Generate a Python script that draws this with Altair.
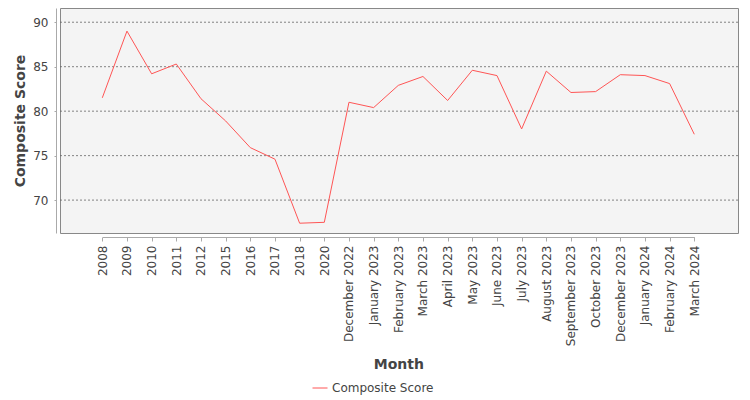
"Composite score by month, line chart"

import pandas as pd
import altair as alt

months = [
    "2008", "2009", "2010", "2011", "2012", "2015", "2016", "2017", "2018", "2020",
    "December 2022", "January 2023", "February 2023", "March 2023", "April 2023",
    "May 2023", "June 2023", "July 2023", "August 2023", "September 2023",
    "October 2023", "December 2023", "January 2024", "February 2024", "March 2024",
]
scores = [
    81.5, 89.0, 84.2, 85.3, 81.4, 78.9, 75.9, 74.6, 67.4, 67.5,
    81.0, 80.4, 82.9, 83.9, 81.2, 84.6, 84.0, 78.0, 84.5, 82.1,
    82.2, 84.1, 84.0, 83.1, 77.4,
]
series = ["Composite Score"] * len(months)
y_ticks = [70, 75, 80, 85, 90]

scores_df = pd.DataFrame({"Month": months, "Composite Score": scores, "Series": series})
grid_df = pd.DataFrame({"tick": y_ticks})

font = "DejaVu Sans"
y_scale = alt.Scale(domain=[66.3, 91.6], nice=False, zero=False)
y_axis = alt.Axis(title="Composite Score", values=y_ticks, labelFont=font,
                  labelFontSize=12, labelColor="#444444", titleFont=font,
                  titleFontSize=14, titleColor="#444444", titleFontWeight="bold",
                  titlePadding=5, domainColor="#aaaaaa", tickColor="#aaaaaa",
                  tickSize=2, offset=4, labelPadding=6, grid=False)

# full-width dashed gridlines (axis grid would stop at the point-scale range)
grid = alt.Chart(grid_df).mark_rule(color="#666666", strokeDash=[2, 2], strokeWidth=0.8).encode(
    y=alt.Y("tick:Q", scale=y_scale, axis=y_axis),
    x=alt.value(0),
    x2=alt.value(678),
)

line = alt.Chart(scores_df).mark_line(strokeWidth=1).encode(
    x=alt.X("Month:N", sort=months,
            scale=alt.Scale(type="point", padding=0, range=[42.3, 634.3]),
            axis=alt.Axis(title="Month", labelAngle=-90, labelFont=font, labelFontSize=12,
                          labelColor="#444444", titleFont=font, titleFontSize=14,
                          titleColor="#444444", titleFontWeight="bold", titlePadding=12,
                          domainColor="#aaaaaa", tickColor="#aaaaaa", tickSize=4,
                          offset=4, grid=False, labelPadding=4)),
    y=alt.Y("Composite Score:Q", scale=y_scale, axis=y_axis),
    color=alt.Color("Series:N", scale=alt.Scale(range=["#ff5555"]),
                    legend=alt.Legend(title=None, orient="none", legendX=252, legendY=372,
                                      symbolType="stroke", symbolSize=225,
                                      symbolStrokeWidth=1, labelFont=font,
                                      labelFontSize=12, labelColor="#444444")),
)

chart = alt.layer(grid, line).properties(
    width=678,
    height=225,
    autosize=alt.AutoSizeParams(type="none"),
    padding={"left": 52, "top": 0, "right": 4, "bottom": 166},
).configure_view(fill="#f4f4f4", stroke="#888888", strokeWidth=1)

chart.save("out.html", embed_options={"renderer": "svg", "actions": False})
